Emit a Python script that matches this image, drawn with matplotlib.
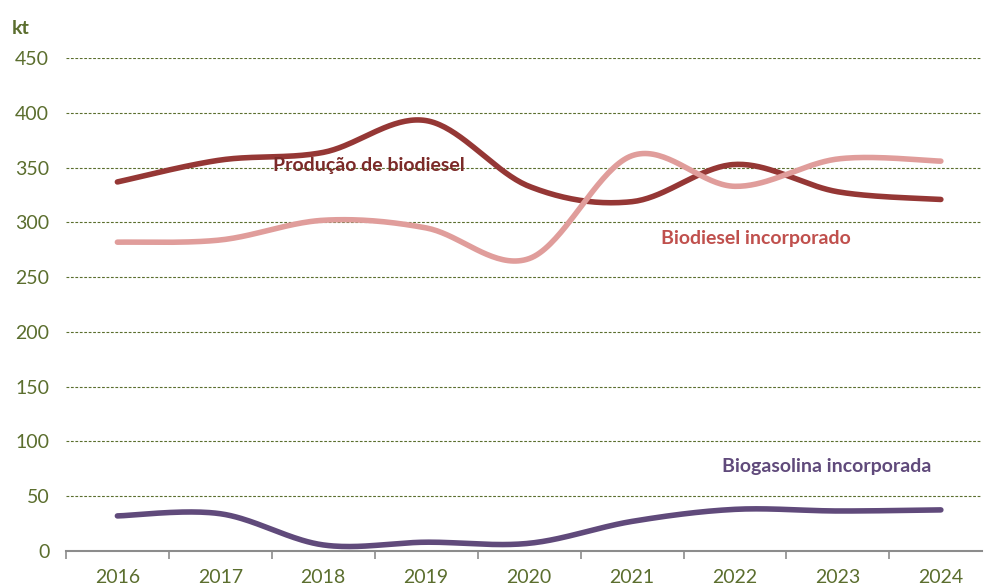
import numpy as np
import matplotlib

matplotlib.use("Agg")
import matplotlib.pyplot as plt

plt.rcParams["font.family"] = ["Lato", "DejaVu Sans"]

# --- Data (kt) ---------------------------------------------------------------
years = ["2016", "2017", "2018", "2019", "2020", "2021", "2022", "2023", "2024"]
producao_biodiesel = [337, 357, 364, 393, 333, 319, 353, 328, 321]
biodiesel_incorporado = [282, 284, 302, 295, 267, 361, 333, 358, 356]
biogasolina_incorporada = [32, 34, 5.5, 8, 7, 27, 38, 36.5, 37.5]

GREEN = "#5b6e2e"


def smooth(xs, ys, n=40):
    """Excel-style smoothed line: cubic Bezier with Catmull-Rom control points."""
    pts = np.column_stack([xs, ys]).astype(float)
    out = [pts[0]]
    for i in range(len(pts) - 1):
        p0 = pts[i - 1] if i > 0 else pts[i]
        p1, p2 = pts[i], pts[i + 1]
        p3 = pts[i + 2] if i + 2 < len(pts) else pts[i + 1]
        c1 = p1 + (p2 - p0) / 6.0
        c2 = p2 - (p3 - p1) / 6.0
        t = np.linspace(0, 1, n)[1:, None]
        seg = ((1 - t) ** 3) * p1 + 3 * ((1 - t) ** 2) * t * c1 \
            + 3 * (1 - t) * t ** 2 * c2 + t ** 3 * p2
        out.extend(seg)
    out = np.array(out)
    return out[:, 0], out[:, 1]


fig = plt.figure(figsize=(9.84, 5.88), dpi=100)
ax = fig.add_axes([0.067, 0.063, 0.931, 0.838])

x = np.arange(len(years))
series = [
    (producao_biodiesel, "#953735"),
    (biodiesel_incorporado, "#e09d9b"),
    (biogasolina_incorporada, "#604a7b"),
]
for vals, col in series:
    sx, sy = smooth(x, vals)
    ax.plot(sx, sy, color=col, lw=4.0, solid_capstyle="round", zorder=3)

ax.set_ylim(0, 450)
ax.set_xlim(-0.5, 8.4)
ax.set_yticks(range(0, 451, 50))
ax.yaxis.grid(True, color=GREEN, ls=(0, (2.5, 1.5)), lw=0.8)
ax.set_axisbelow(True)
ax.tick_params(axis="y", length=0, labelsize=14, labelcolor=GREEN, pad=12)

# category boundaries get the tick marks, centres get the labels
ax.set_xticks(np.arange(-0.5, 8.0, 1.0))
ax.set_xticklabels([])
ax.tick_params(axis="x", which="major", length=6, color="#8c8c8c", width=1.2)
ax.set_xticks(x, minor=True)
ax.set_xticklabels(years, minor=True)
ax.tick_params(axis="x", which="minor", length=0, labelsize=14,
               labelcolor=GREEN, pad=13)

for s in ("top", "right", "left"):
    ax.spines[s].set_visible(False)
ax.spines["bottom"].set_color("#8c8c8c")
ax.spines["bottom"].set_linewidth(1.5)

fig.text(0.012, 0.952, "kt", fontsize=14, fontweight="bold", color=GREEN,
         va="center", ha="left")

ax.text(2.44, 352, "Produção de biodiesel", fontsize=14, fontweight="bold",
        color="#7b2a28", ha="center", va="center", zorder=4)
ax.text(6.2, 285, "Biodiesel incorporado", fontsize=14, fontweight="bold",
        color="#c0504d", ha="center", va="center")
ax.text(6.89, 77, "Biogasolina incorporada", fontsize=14, fontweight="bold",
        color="#604a7b", ha="center", va="center")

fig.savefig("out.png", dpi=100)
